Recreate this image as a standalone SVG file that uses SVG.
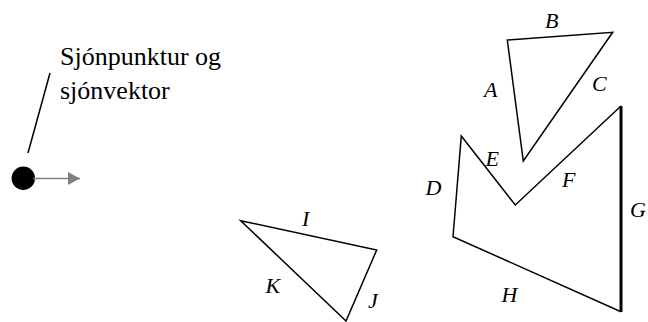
<svg xmlns="http://www.w3.org/2000/svg" width="648" height="322" viewBox="0 0 648 322">
<defs>
<style>
.t{font-family:'Liberation Serif',serif;font-size:26px;fill:#000}
.l{font-family:'Liberation Serif',serif;font-size:22px;font-style:italic;fill:#000}
.s{fill:none;stroke:#000;stroke-width:1.5;stroke-linejoin:miter}
</style>
<marker id="ah" markerWidth="12" markerHeight="13" refX="12" refY="6.5" orient="auto" markerUnits="userSpaceOnUse">
<path d="M0,0 L12,6.5 L0,13 Z" fill="#808080"/>
</marker>
</defs>
<rect width="648" height="322" fill="#fff"/>
<g id="viewpoint">
<line x1="50" y1="73" x2="28" y2="153" stroke="#000" stroke-width="1.5"/>
<text class="t" x="60" y="65">Sjónpunktur og</text>
<text class="t" x="60" y="99">sjónvektor</text>
<circle cx="23.3" cy="178.3" r="11.7" fill="#000"/>
</g>
<g id="connectors">
<line x1="33" y1="178.5" x2="80" y2="178.5" stroke="#808080" stroke-width="1.5" marker-end="url(#ah)"/>
</g>
<g id="triangle-abc">
<polygon class="s" points="507.3,40 612.7,32.3 523.3,161"/>
<text class="l" x="545" y="28">B</text>
<text class="l" x="484" y="96.7">A</text>
<text class="l" x="592" y="90.7">C</text>
<text class="l" x="485.5" y="165.7">E</text>
</g>
<g id="polygon-dh">
<polyline class="s" points="621,106 515.3,205 461.3,136 453,236.7 621,311.7"/>
<line x1="621" y1="106" x2="621" y2="312" stroke="#000" stroke-width="3"/>
<text class="l" x="425.5" y="195">D</text>
<text class="l" x="562" y="186.7">F</text>
<text class="l" x="630" y="217">G</text>
<text class="l" x="501.5" y="301.7">H</text>
</g>
<g id="triangle-ijk">
<polygon class="s" points="240.7,220.7 376.7,250 346,321"/>
<text class="l" x="302" y="226">I</text>
<text class="l" x="265.5" y="292.7">K</text>
<text class="l" x="368" y="308">J</text>
</g>
</svg>
